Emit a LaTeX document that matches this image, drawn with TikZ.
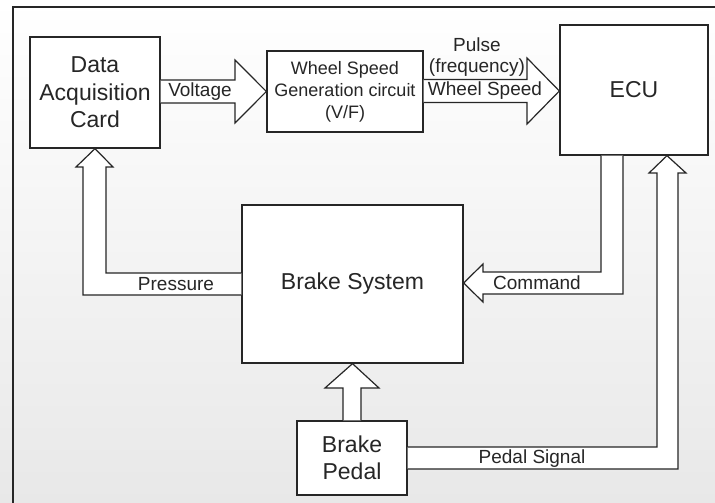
\documentclass[tikz,border=0pt]{standalone}
\usepackage{fontspec}
\setmainfont{Liberation Sans}
\usetikzlibrary{calc}
\definecolor{ink}{HTML}{262626}
\tikzset{
  blk/.style={draw=ink, line width=1.3pt, fill=white, inner sep=0pt, align=center, text=ink},
  arr/.style={draw=ink, line width=1.2pt, fill=white, line join=miter},
  lbl/.style={text=ink, inner sep=0pt, font=\fontsize{19}{21}\selectfont},
  big/.style={font=\fontsize{23}{27.5}\selectfont},
  mid/.style={font=\fontsize{18}{22}\selectfont}
}
\begin{document}
\begin{tikzpicture}[x=1pt,y=-1pt]
\useasboundingbox (0,0) rectangle (715,503);
\shade[top color=white, bottom color=black!9] (0,0) rectangle (715,503);
% frame
\draw[ink, line width=1.2pt] (13,503) -- (13,7) -- (715,7);

% blocks
\node[blk, big, minimum width=130pt, minimum height=111pt] (dac) at (95,92.5) {Data\\Acquisition\\Card};
\node[blk, mid, minimum width=156pt, minimum height=81pt] (wsg) at (345,91.5) {Wheel Speed\\Generation circuit\\(V/F)};
\node[blk, big, minimum width=148pt, minimum height=130pt] (ecu) at (634,90) {ECU};
\node[blk, big, minimum width=221pt, minimum height=158pt] (bs) at (352.5,284) {Brake System};
\node[blk, big, minimum width=110pt, minimum height=74pt] (bp) at (352,458) {Brake\\Pedal};

% Voltage: dac -> wsg
\draw[arr] (dac.east |- 0,80) -- (235,80) -- (235,60) -- (wsg.west |- 0,91.5) -- (235,123) -- (235,103) -- (dac.east |- 0,103);
\node[lbl] (volt) at (200,91.5) {Voltage};

% Pulse: wsg -> ecu
\draw[arr] (wsg.east |- 0,79.5) -- (527,79.5) -- (527,58) -- (ecu.west |- 0,91) -- (527,124) -- (527,102.5) -- (wsg.east |- 0,102.5);
\node[lbl] (pulse) at (477,45) {Pulse};
\node[lbl] (freq) at (477,68) {(frequency)};
\node[lbl] (ws) at (485,91) {Wheel Speed};

% Command: ecu -> bs
\draw[arr] (601,0 |- ecu.south) -- (601,272) -- (483,272) -- (483,264) -- (bs.east |- 0,283) -- (483,302) -- (483,294) -- (623,294) -- (623,0 |- ecu.south);
\node[lbl] (cmd) at (537,283) {Command};

% Pressure: bs -> dac
\draw[arr] (bs.west |- 0,273) -- (106,273) -- (106,167) -- (113,167) -- (95,0 |- dac.south) -- (76,167) -- (83,167) -- (83,295) -- (bs.west |- 0,295);
\node[lbl] (press) at (176,284) {Pressure};

% Pedal -> Brake system
\draw[arr] (343,0 |- bp.north) -- (343,388) -- (325,388) -- (352.5,0 |- bs.south) -- (379,388) -- (361,388) -- (361,0 |- bp.north);

% Pedal Signal: bp -> ecu
\draw[arr] (bp.east |- 0,447) -- (657,447) -- (657,173) -- (649,173) -- (667,0 |- ecu.south) -- (686,173) -- (678,173) -- (678,469) -- (bp.east |- 0,469);
\node[lbl] (ps) at (532,459) {Pedal Signal};
\end{tikzpicture}
\end{document}
